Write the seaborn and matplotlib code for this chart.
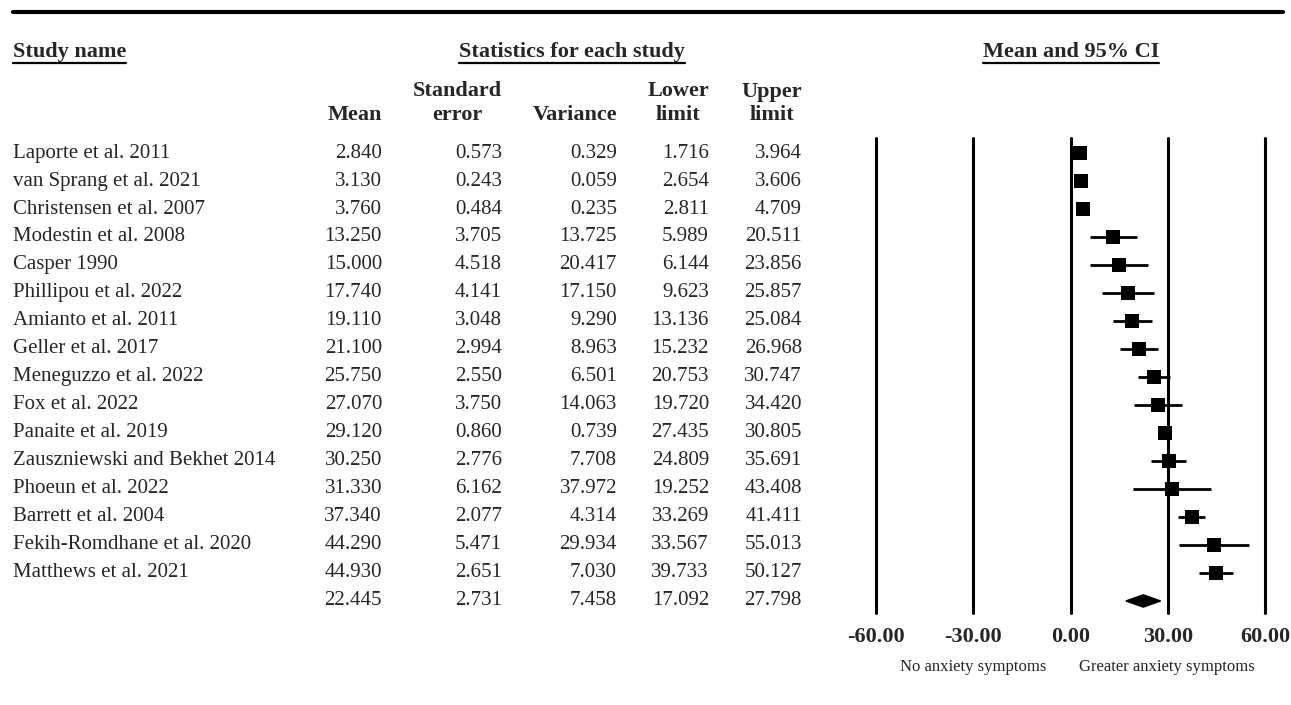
import numpy as np
import pandas as pd
import matplotlib
matplotlib.use("Agg")
import matplotlib.pyplot as plt
import matplotlib.transforms as mtransforms
from matplotlib.lines import Line2D
import seaborn as sns

# Dados do forest plot
studies = ["Laporte et al. 2011", "van Sprang et al. 2021", "Christensen et al. 2007",
           "Modestin et al. 2008", "Casper 1990", "Phillipou et al. 2022",
           "Amianto et al. 2011", "Geller et al. 2017", "Meneguzzo et al. 2022",
           "Fox et al. 2022", "Panaite et al. 2019", "Zauszniewski and Bekhet 2014",
           "Phoeun et al. 2022", "Barrett et al. 2004", "Fekih-Romdhane et al. 2020",
           "Matthews et al. 2021"]
means = [2.840, 3.130, 3.760, 13.250, 15.000, 17.740, 19.110, 21.100, 25.750,
         27.070, 29.120, 30.250, 31.330, 37.340, 44.290, 44.930]
std_err = [0.573, 0.243, 0.484, 3.705, 4.518, 4.141, 3.048, 2.994, 2.550,
           3.750, 0.860, 2.776, 6.162, 2.077, 5.471, 2.651]
variance = [0.329, 0.059, 0.235, 13.725, 20.417, 17.150, 9.290, 8.963, 6.501,
            14.063, 0.739, 7.708, 37.972, 4.314, 29.934, 7.030]
lower = [1.716, 2.654, 2.811, 5.989, 6.144, 9.623, 13.136, 15.232, 20.753,
         19.720, 27.435, 24.809, 19.252, 33.269, 33.567, 39.733]
upper = [3.964, 3.606, 4.709, 20.511, 23.856, 25.857, 25.084, 26.968, 30.747,
         34.420, 30.805, 35.691, 43.408, 41.411, 55.013, 50.127]

summary = {"mean": 22.445, "se": 2.731, "var": 7.458, "lower": 17.092, "upper": 27.798}

ticks = [-60, -30, 0, 30, 60]
col_headers = ["Mean", "Standard\nerror", "Variance", "Lower\nlimit", "Upper\nlimit"]

df = pd.DataFrame({"study": studies, "mean": means, "se": std_err, "var": variance,
                   "lower": lower, "upper": upper})
df["row"] = np.arange(len(df))
n = len(df)

sns.set_style("white")
plt.rcParams["font.family"] = ["Liberation Serif", "DejaVu Serif"]

W, H = 1291, 705
fig = plt.figure(figsize=(W / 100, H / 100), dpi=100)

# eixo do forest plot
x0, x1, ytop, ybot = 876, 1265, 138, 613
ax = fig.add_axes([x0 / W, 1 - ybot / H, (x1 - x0) / W, (ybot - ytop) / H])
ax.set_xlim(-60, 60)
ax.set_ylim(n + 0.43, -0.536)
for t in ticks:
    ax.axvline(t, color="black", lw=2.2, zorder=1, clip_on=False)

ax.hlines(df["row"], df["lower"], df["upper"], color="black", lw=2, zorder=2)
sns.scatterplot(data=df, x="mean", y="row", marker="s", s=105, color="black",
                edgecolor="black", linewidth=0, ax=ax, zorder=3, legend=False)

# diamante do efeito combinado
dh = 0.22
ax.fill([summary["lower"], summary["mean"], summary["upper"], summary["mean"]],
        [n, n - dh, n, n + dh], color="black", zorder=3)

ax.set_xticks(ticks)
ax.set_xticklabels([f"{t:.2f}" for t in ticks], fontsize=16, fontweight="bold")
ax.tick_params(axis="x", length=0, pad=10)
ax.set_yticks([])
ax.set_xlabel("")
ax.set_ylabel("")
for s in ax.spines.values():
    s.set_visible(False)

# tabela à esquerda
tr = mtransforms.blended_transform_factory(fig.transFigure, ax.transData)
col_right = [382, 502, 617, 709, 802]
for i, r in df.iterrows():
    fig.text(13 / W, r["row"], r["study"], transform=tr, fontsize=15, va="center")
    for xr, key in zip(col_right, ["mean", "se", "var", "lower", "upper"]):
        fig.text(xr / W, r["row"], f"{r[key]:.3f}", transform=tr, fontsize=15,
                 va="center", ha="right")
for xr, key in zip(col_right, ["mean", "se", "var", "lower", "upper"]):
    fig.text(xr / W, n, f"{summary[key]:.3f}", transform=tr, fontsize=15,
             va="center", ha="right")

for xr, h in zip(col_right, col_headers):
    yc = 103 if "\n" in h else 115
    fig.text(xr / W, 1 - yc / H, h, fontsize=16, fontweight="bold", ha="right",
             va="center", multialignment="center", linespacing=1.2)

# cabeçalhos sublinhados
heads = [
    fig.text(13 / W, 1 - 52 / H, "Study name", fontsize=16, fontweight="bold", va="center"),
    fig.text(572 / W, 1 - 52 / H, "Statistics for each study", fontsize=16,
             fontweight="bold", va="center", ha="center"),
    fig.text(1071 / W, 1 - 52 / H, "Mean and 95% CI", fontsize=16, fontweight="bold",
             va="center", ha="center"),
]
fig.canvas.draw()
renderer = fig.canvas.get_renderer()
for t in heads:
    bb = t.get_window_extent(renderer)
    yline = bb.y0 - 1
    fig.add_artist(Line2D([bb.x0 / W, bb.x1 / W], [yline / H, yline / H],
                          color="black", lw=1.6))

# linha superior
fig.add_artist(Line2D([13 / W, 1283 / W], [1 - 12 / H, 1 - 12 / H], color="black", lw=3))

# rótulos de direção
fig.text(973 / W, 1 - 667 / H, "No anxiety symptoms", fontsize=12, ha="center", va="center")
fig.text(1167 / W, 1 - 667 / H, "Greater anxiety symptoms", fontsize=12, ha="center",
         va="center")

fig.savefig("out.png", dpi=100)
